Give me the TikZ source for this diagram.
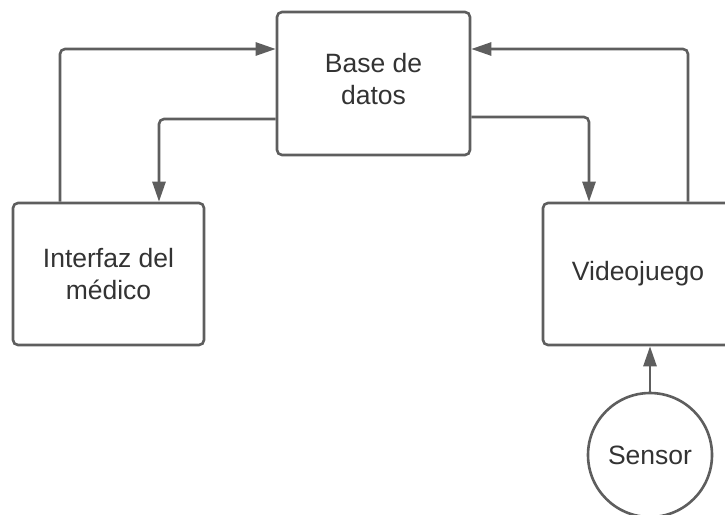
\documentclass[tikz,border=0pt]{standalone}
\usepackage{fontspec}
\setmainfont{Liberation Sans}
\usetikzlibrary{arrows.meta}
\definecolor{edgegray}{HTML}{5E5E5E}
\definecolor{textgray}{HTML}{333333}
\tikzset{
  box/.style={draw=edgegray, line width=2.6pt, rounded corners=5pt, fill=white,
    align=center, text=textgray, font=\fontsize{26.5}{32}\selectfont, inner sep=0pt},
  roundnode/.style={draw=edgegray, line width=2.6pt, circle, fill=white,
    text=textgray, font=\fontsize{26.5}{32}\selectfont, inner sep=0pt},
  link/.style={draw=edgegray, line width=2.6pt, rounded corners=5pt,
    -{Triangle[length=20pt,width=13pt]}},
}
\begin{document}
\begin{tikzpicture}[x=1pt,y=-1pt]
  \clip (0,0) rectangle (725,514);
  \fill[white] (0,0) rectangle (725,514);

  \node[box, minimum width=193pt, minimum height=143pt] (base) at (373.5,83.5) {};
  \node[text=textgray, font=\fontsize{26.5}{32}\selectfont, align=center, inner sep=0pt]
    (basetext) at (373.5,79) {Base de\\datos};
  \node[box, minimum width=191pt, minimum height=142pt] (inter) at (108.5,274) {Interfaz del\\médico};
  \node[box, minimum width=190pt, minimum height=142pt] (video) at (638,274) {Videojuego};
  \node[roundnode, minimum size=124pt] (sensor) at (650,455) {Sensor};

  % feedback loops between the three blocks
  \draw[link] ([xshift=-48.5pt]inter.north) |- ([yshift=34.5pt]base.west);
  \draw[link] ([yshift=-35.5pt]base.west) -| ([xshift=50.5pt]inter.north);
  \draw[link] ([yshift=-33.5pt]base.east) -| ([xshift=-49pt]video.north);
  \draw[link] ([xshift=50pt]video.north) |- ([yshift=34.5pt]base.east);
  \draw[link] (sensor.north) -- (sensor.north |- video.south);
\end{tikzpicture}
\end{document}
